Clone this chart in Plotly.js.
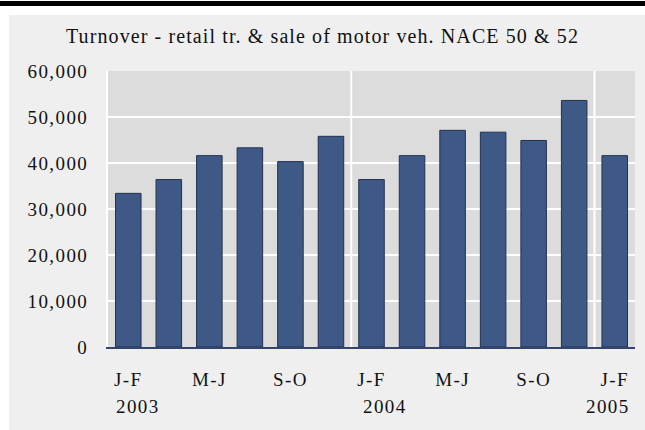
<!DOCTYPE html>
<html>
<head>
<meta charset="utf-8">
<script src="https://cdn.plot.ly/plotly-3.0.1.min.js"></script>
<style>
  html, body { margin: 0; padding: 0; background: #ffffff; }
  #chart { width: 645px; height: 430px; }
  .xtick text, .ytick text, .annotation-text { letter-spacing: 1.4px; }
  .gtitle { letter-spacing: 1.1px; }
</style>
</head>
<body>
<div id="chart"></div>
<script>
// ---- data ----
const periods = ['J-F','M-A','M-J','J-A','S-O','N-D','J-F','M-A','M-J','J-A','S-O','N-D','J-F'];
const turnover = [33400, 36400, 41600, 43300, 40300, 45800, 36400, 41600, 47100, 46700, 44900, 53600, 41600];
const years = ['2003', '2004', '2005'];
const titleText = 'Turnover - retail tr. & sale of motor veh. NACE 50 & 52';

// ---- presentation ----
const yearLabelX = [0.25, 6.33, 11.83];
const fontFam = '"Liberation Serif", "Times New Roman", serif';
const idx = turnover.map((_, i) => i);
const tickIdx = idx.filter(i => i % 2 === 0);
const boundaries = idx.filter(i => i > 0 && periods[i] === 'J-F').map(i => i - 0.5);

const trace = {
  type: 'bar',
  x: idx,
  y: turnover,
  marker: { color: '#3f5987', line: { color: '#22314f', width: 1 } },
  hoverinfo: 'skip'
};

const shapes = [
  // white outer margins
  { type: 'rect', xref: 'paper', yref: 'paper', x0: -0.21, x1: -0.1879, y0: -0.31, y1: 1.26,
    fillcolor: '#ffffff', line: { width: 0 }, layer: 'above' },
  { type: 'rect', xref: 'paper', yref: 'paper', x0: -0.21, x1: 1.03, y0: 1.2029, y1: 1.26,
    fillcolor: '#ffffff', line: { width: 0 }, layer: 'above' },
  // black top rule
  { type: 'rect', xref: 'paper', yref: 'paper', x0: -0.21, x1: 1.03, y0: 1.2355, y1: 1.2536,
    fillcolor: '#000000', line: { width: 0 }, layer: 'above' }
].concat(boundaries.map(b => ({
  type: 'line', xref: 'x', yref: 'paper', x0: b, x1: b, y0: 0, y1: 1,
  line: { color: '#ffffff', width: 2 }, layer: 'below'
})));

const annotations = years.map((yr, k) => ({
  text: yr, xref: 'x', yref: 'paper', x: yearLabelX[k], y: -0.217,
  xanchor: 'center', yanchor: 'middle', showarrow: false,
  font: { family: fontFam, size: 19, color: '#111111' }
}));

const layout = {
  width: 645, height: 430,
  margin: { l: 108, r: 10, t: 71, b: 83 },
  paper_bgcolor: '#efefef',
  plot_bgcolor: '#dcdcdc',
  showlegend: false,
  bargap: 0.37,
  title: {
    text: titleText, xref: 'container', x: 0.5, xanchor: 'center',
    yref: 'container', y: 0.916, yanchor: 'middle',
    font: { family: fontFam, size: 20, color: '#111111' }
  },
  xaxis: {
    range: [-0.5, 12.5],
    tickmode: 'array',
    tickvals: tickIdx,
    ticktext: tickIdx.map(i => periods[i]),
    showgrid: false, zeroline: false,
    showline: true, linecolor: '#34446a', linewidth: 1.5,
    ticks: '', ticklabelstandoff: 15,
    tickfont: { family: fontFam, size: 19, color: '#111111' },
    fixedrange: true
  },
  yaxis: {
    range: [0, 60000], dtick: 10000, tickformat: ',d',
    showgrid: true, gridcolor: '#ffffff', gridwidth: 2,
    zeroline: false, showline: true, linecolor: '#ffffff', linewidth: 2,
    ticks: '', ticklabelstandoff: 14,
    tickfont: { family: fontFam, size: 19, color: '#111111' },
    fixedrange: true
  },
  shapes: shapes,
  annotations: annotations
};

Plotly.newPlot('chart', [trace], layout, { displayModeBar: false, staticPlot: true });
</script>
</body>
</html>
